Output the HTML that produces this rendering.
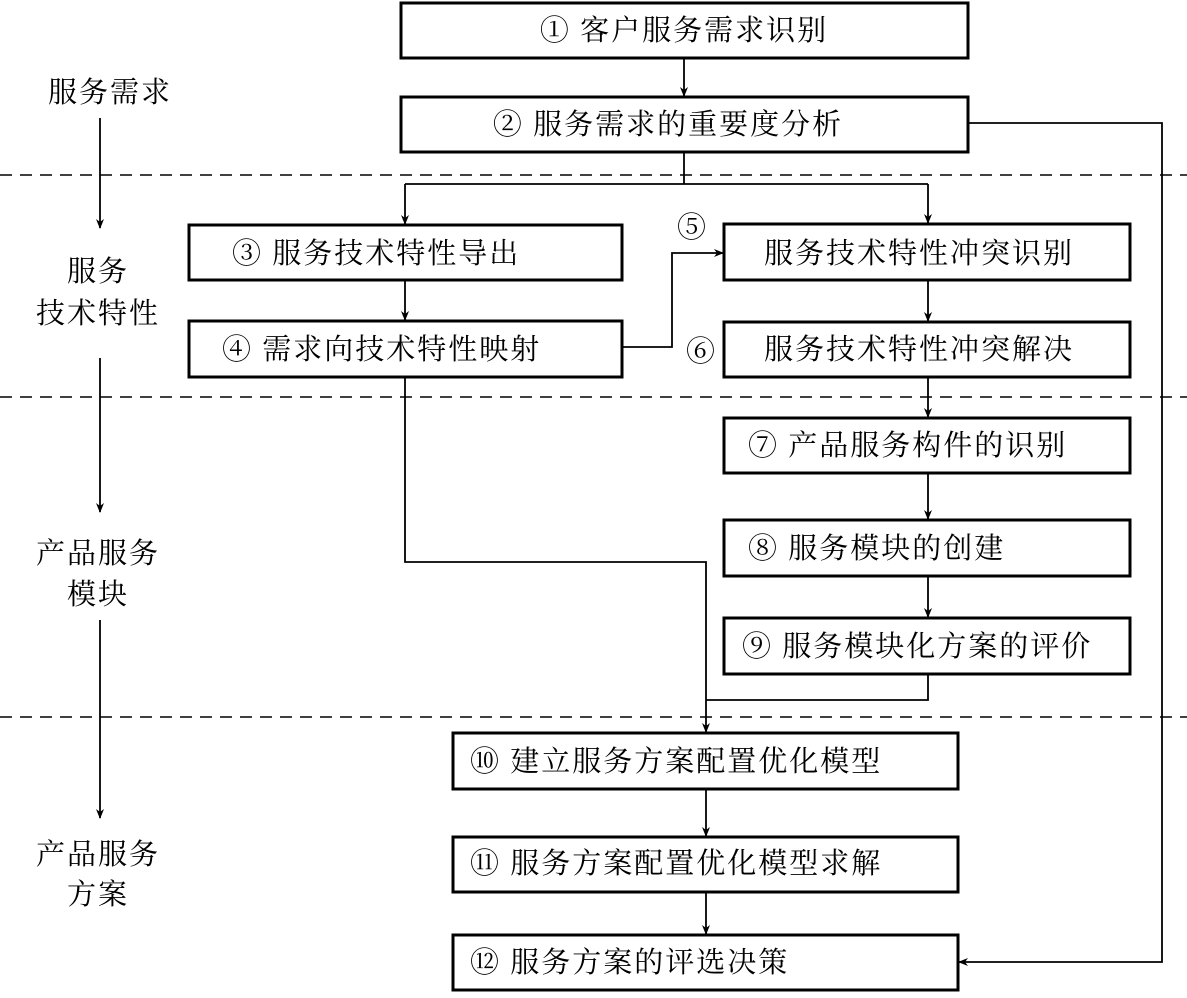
<!DOCTYPE html>
<html><head><meta charset="utf-8"><style>
html,body{margin:0;padding:0;background:#fff;}
svg text{font-family:"Liberation Serif","Noto Serif CJK SC",serif;font-size:29px;letter-spacing:2px;fill:#000;dominant-baseline:central;}
</style></head><body>
<svg width="1187" height="993" viewBox="0 0 1187 993" xmlns="http://www.w3.org/2000/svg">
<defs><marker id="a" markerWidth="10" markerHeight="18" refX="9" refY="5" orient="auto" markerUnits="userSpaceOnUse" viewBox="0 0 10 10"><path d="M0,1 L10,5 L0,9 L3,5 Z" fill="#000"/></marker></defs>
<g stroke="#000" stroke-width="1.6" stroke-dasharray="12,8">
<line x1="0" y1="175" x2="1187" y2="175"/>
<line x1="0" y1="397" x2="1187" y2="397"/>
<line x1="0" y1="717" x2="1187" y2="717"/>
</g>
<g fill="none" stroke="#000" stroke-width="3">
<rect x="401" y="3" width="567" height="55"/>
<rect x="401" y="97" width="567" height="55"/>
<rect x="189" y="225" width="433" height="55"/>
<rect x="189" y="321" width="433" height="56"/>
<rect x="724" y="224" width="406" height="56"/>
<rect x="724" y="322" width="406" height="55"/>
<rect x="724" y="418" width="406" height="55"/>
<rect x="724" y="520" width="406" height="56"/>
<rect x="724" y="618" width="406" height="56"/>
<rect x="453" y="733" width="505" height="56"/>
<rect x="453" y="837" width="505" height="55"/>
<rect x="453" y="935" width="505" height="55"/>
</g>
<g fill="none" stroke="#000" stroke-width="1.8">
<line x1="684" y1="58" x2="684" y2="96" marker-end="url(#a)"/>
<polyline points="684,152 684,184"/>
<polyline points="405,184 928,184"/>
<line x1="405" y1="184" x2="405" y2="224" marker-end="url(#a)"/>
<line x1="928" y1="184" x2="928" y2="223" marker-end="url(#a)"/>
<line x1="405" y1="280" x2="405" y2="320" marker-end="url(#a)"/>
<polyline points="622,347 672,347 672,253 723,253" marker-end="url(#a)"/>
<line x1="928" y1="280" x2="928" y2="321" marker-end="url(#a)"/>
<line x1="928" y1="377" x2="928" y2="417" marker-end="url(#a)"/>
<line x1="928" y1="473" x2="928" y2="519" marker-end="url(#a)"/>
<line x1="928" y1="576" x2="928" y2="617" marker-end="url(#a)"/>
<polyline points="405,377 405,562 706,562 706,732" marker-end="url(#a)"/>
<polyline points="928,674 928,700 706,700"/>
<line x1="706" y1="789" x2="706" y2="836" marker-end="url(#a)"/>
<line x1="706" y1="892" x2="706" y2="934" marker-end="url(#a)"/>
<polyline points="968,123 1162,123 1162,962 959,962" marker-end="url(#a)"/>
<line x1="100" y1="118" x2="100" y2="228" marker-end="url(#a)"/>
<line x1="100" y1="358" x2="100" y2="512" marker-end="url(#a)"/>
<line x1="100" y1="620" x2="100" y2="818" marker-end="url(#a)"/>
</g>
<text x="684" y="31" text-anchor="middle">① 客户服务需求识别</text>
<text x="668" y="125" text-anchor="middle">② 服务需求的重要度分析</text>
<text x="232" y="254">③ 服务技术特性导出</text>
<text x="222" y="350">④ 需求向技术特性映射</text>
<text x="677" y="228">⑤</text>
<text x="686" y="352">⑥</text>
<text x="764" y="254">服务技术特性冲突识别</text>
<text x="764" y="350">服务技术特性冲突解决</text>
<text x="748" y="446">⑦ 产品服务构件的识别</text>
<text x="748" y="549">⑧ 服务模块的创建</text>
<text x="742" y="647">⑨ 服务模块化方案的评价</text>
<text x="470" y="762">⑩ 建立服务方案配置优化模型</text>
<text x="470" y="864">⑪ 服务方案配置优化模型求解</text>
<text x="470" y="963">⑫ 服务方案的评选决策</text>
<text x="110" y="93" text-anchor="middle">服务需求</text>
<text x="98" y="272" text-anchor="middle">服务</text>
<text x="98" y="314" text-anchor="middle">技术特性</text>
<text x="98" y="554" text-anchor="middle">产品服务</text>
<text x="98" y="595" text-anchor="middle">模块</text>
<text x="98" y="855" text-anchor="middle">产品服务</text>
<text x="98" y="895" text-anchor="middle">方案</text>
</svg>
</body></html>
